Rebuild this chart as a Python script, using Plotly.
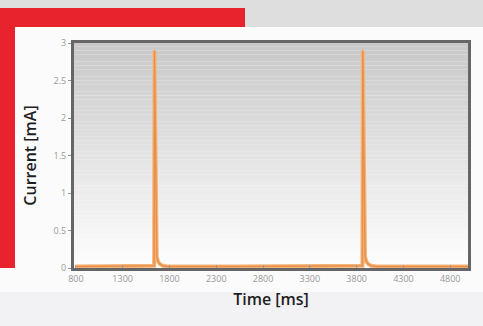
import plotly.graph_objects as go

# Measured current trace (two stimulation spikes)
time_ms = [800, 1200, 1600, 1636, 1640, 1644, 1650, 1656, 1664, 1680, 1700, 1730, 1780,
           2500, 3200, 3840, 3862, 3866, 3870, 3876, 3882, 3890, 3906, 3926, 3956, 4010, 4990]
current_ma = [0.02, 0.02, 0.02, 0.03, 2.9, 2.4, 1.2, 0.35, 0.15, 0.08, 0.05, 0.03, 0.02,
              0.02, 0.02, 0.02, 0.03, 2.9, 2.4, 1.2, 0.35, 0.15, 0.08, 0.05, 0.03, 0.02, 0.02]

x_ticks = [800, 1300, 1800, 2300, 2800, 3300, 3800, 4300, 4800]
y_ticks = [0, 0.5, 1, 1.5, 2, 2.5, 3]

W, H = 483, 326
L, R, T, B = 74, 15, 43, 58
pw, ph = W - L - R, H - T - B


def px(x):
    return (x - L) / pw


def py(y):
    return (H - B - y) / ph


fig = go.Figure()
fig.add_trace(go.Scatter(
    x=time_ms, y=current_ma, mode="lines",
    line=dict(color="#f5b57a", width=4), showlegend=False, hoverinfo="skip"))
fig.add_trace(go.Scatter(
    x=time_ms, y=current_ma, mode="lines",
    line=dict(color="#e8904a", width=1.5), showlegend=False, hoverinfo="skip"))

shapes = []
# plot-area vertical gradient (grey top to white bottom)
n = 60
for i in range(n):
    t = i / (n - 1)
    g = int(round(200 + (254 - 200) * t))
    shapes.append(dict(type="rect", xref="paper", yref="paper", layer="below",
                       x0=0, x1=1, y0=1 - (i + 1) / n, y1=1 - i / n,
                       fillcolor=f"rgb({g},{g},{g})", line=dict(width=0)))
# page backdrop: grey strip along the top
shapes.append(dict(type="rect", xref="paper", yref="paper", layer="below",
                   x0=px(0), x1=px(W), y0=py(27), y1=py(0),
                   fillcolor="#dedede", line=dict(width=0)))
shapes.append(dict(type="rect", xref="paper", yref="paper", layer="below",
                   x0=px(0), x1=px(W), y0=py(H), y1=py(292),
                   fillcolor="#f2f2f4", line=dict(width=0)))
# red corner bracket
shapes.append(dict(type="rect", xref="paper", yref="paper",
                   x0=px(0), x1=px(245), y0=py(27), y1=py(8),
                   fillcolor="#e8232d", line=dict(width=0)))
shapes.append(dict(type="rect", xref="paper", yref="paper",
                   x0=px(0), x1=px(15), y0=py(268), y1=py(8),
                   fillcolor="#e8232d", line=dict(width=0)))

title_font = dict(size=16, color="#1e1e1e", weight=600)

fig.update_layout(
    width=W, height=H,
    margin=dict(l=L, r=R, t=T, b=B),
    paper_bgcolor="#fbfbfb", plot_bgcolor="rgba(0,0,0,0)",
    shapes=shapes,
    font=dict(family="Open Sans", color="#222"),
    xaxis=dict(range=[780, 4990], tickvals=x_ticks, ticktext=[str(v) for v in x_ticks],
               showgrid=False, zeroline=False, showline=True, mirror=True,
               linecolor="#666", linewidth=3, ticks="inside", ticklen=3,
               tickcolor="#999", tickfont=dict(size=9, color="#999"),
               title=dict(text="Time [ms]", font=title_font, standoff=11)),
    yaxis=dict(range=[0, 3], tickvals=y_ticks, ticktext=["0", "0.5", "1", "1.5", "2", "2.5", "3"],
               showgrid=False, zeroline=False, showline=True, mirror=True,
               linecolor="#666", linewidth=3, ticks="outside", ticklen=3,
               tickcolor="#999", tickfont=dict(size=9, color="#999"),
               title=dict(text="Current [mA]", font=title_font, standoff=13)),
)

fig.write_html("out.html")
